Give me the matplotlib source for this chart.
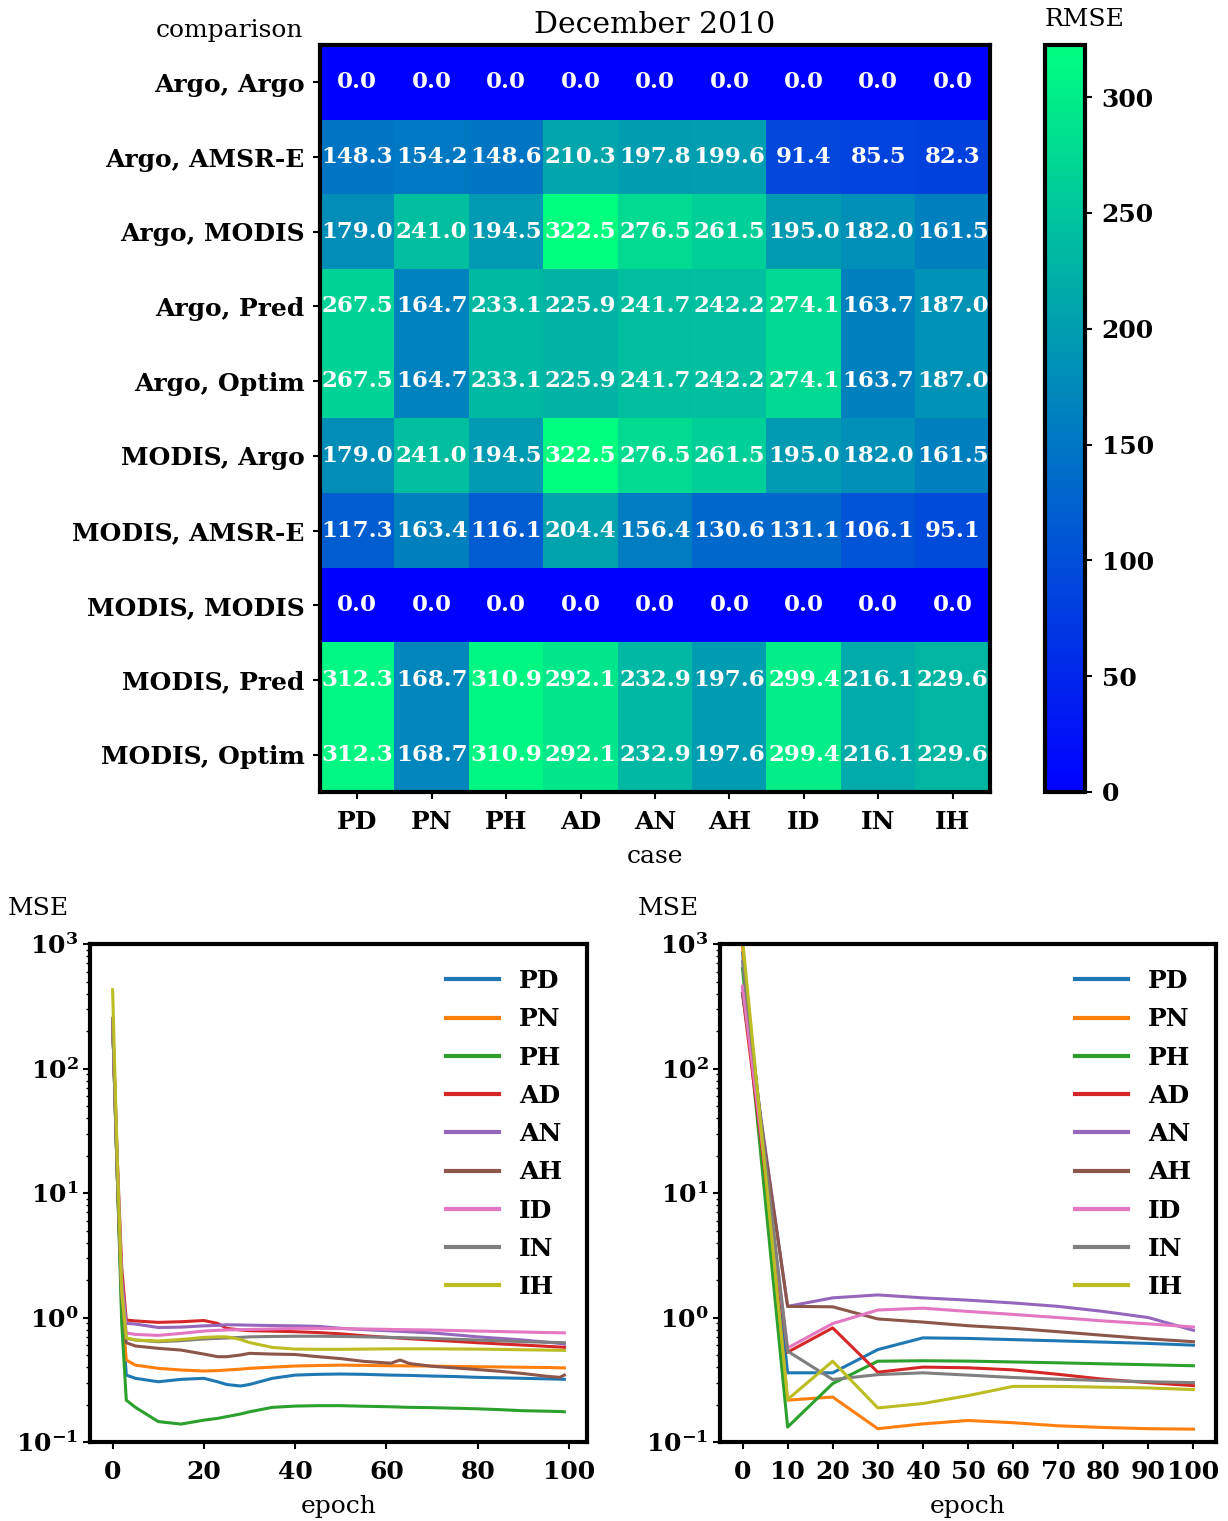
import numpy as np
import matplotlib
matplotlib.use("Agg")
import matplotlib.pyplot as plt

plt.rcParams['font.family'] = ['DejaVu Serif', 'DejaVu Sans']
plt.rcParams['mathtext.fontset'] = 'dejavuserif'
plt.rcParams['mathtext.default'] = 'bf'

# heatmap data
comparisons = ['Argo, Argo', 'Argo, AMSR-E', 'Argo, MODIS', 'Argo, Pred', 'Argo, Optim',
               'MODIS, Argo', 'MODIS, AMSR-E', 'MODIS, MODIS', 'MODIS, Pred', 'MODIS, Optim']
cases = ['PD', 'PN', 'PH', 'AD', 'AN', 'AH', 'ID', 'IN', 'IH']
rmse = np.array([
    [0.0, 0.0, 0.0, 0.0, 0.0, 0.0, 0.0, 0.0, 0.0],
    [148.3, 154.2, 148.6, 210.3, 197.8, 199.6, 91.4, 85.5, 82.3],
    [179.0, 241.0, 194.5, 322.5, 276.5, 261.5, 195.0, 182.0, 161.5],
    [267.5, 164.7, 233.1, 225.9, 241.7, 242.2, 274.1, 163.7, 187.0],
    [267.5, 164.7, 233.1, 225.9, 241.7, 242.2, 274.1, 163.7, 187.0],
    [179.0, 241.0, 194.5, 322.5, 276.5, 261.5, 195.0, 182.0, 161.5],
    [117.3, 163.4, 116.1, 204.4, 156.4, 130.6, 131.1, 106.1, 95.1],
    [0.0, 0.0, 0.0, 0.0, 0.0, 0.0, 0.0, 0.0, 0.0],
    [312.3, 168.7, 310.9, 292.1, 232.9, 197.6, 299.4, 216.1, 229.6],
    [312.3, 168.7, 310.9, 292.1, 232.9, 197.6, 299.4, 216.1, 229.6],
])

# left training curves (read at selected epochs)
ep_left = [0, 1, 2, 3, 5, 10, 15, 20, 23, 25, 28, 30, 35, 40, 45, 50, 55, 61, 63, 65,
           70, 75, 80, 85, 90, 95, 98, 99]
mse_left = {
    'PD': [250, 15, 1.2, 0.345, 0.325, 0.305, 0.319, 0.325, 0.305, 0.29, 0.282, 0.29, 0.325,
           0.345, 0.35, 0.352, 0.35, 0.345, 0.344, 0.343, 0.339, 0.336, 0.331, 0.328, 0.325,
           0.322, 0.32, 0.319],
    'PN': [250, 15, 1.3, 0.456, 0.415, 0.391, 0.379, 0.372, 0.375, 0.379, 0.385, 0.391, 0.40,
           0.408, 0.412, 0.415, 0.413, 0.41, 0.41, 0.409, 0.408, 0.405, 0.403, 0.401, 0.399,
           0.397, 0.395, 0.394],
    'PH': [250, 15, 0.9, 0.217, 0.19, 0.146, 0.1395, 0.15, 0.155, 0.16, 0.168, 0.175, 0.19,
           0.1945, 0.196, 0.196, 0.194, 0.192, 0.191, 0.19, 0.189, 0.187, 0.185, 0.182, 0.1785,
           0.177, 0.176, 0.175],
    'AD': [250, 20, 2.5, 0.955, 0.94, 0.915, 0.926, 0.947, 0.898, 0.819, 0.795, 0.784, 0.778,
           0.77, 0.758, 0.74, 0.715, 0.69, 0.684, 0.676, 0.66, 0.644, 0.628, 0.614, 0.601,
           0.588, 0.58, 0.576],
    'AN': [250, 18, 2.0, 0.898, 0.887, 0.832, 0.838, 0.858, 0.865, 0.875, 0.872, 0.869, 0.863,
           0.858, 0.85, 0.82, 0.80, 0.782, 0.775, 0.768, 0.753, 0.727, 0.70, 0.68, 0.66,
           0.635, 0.62, 0.612],
    'AH': [250, 15, 1.5, 0.628, 0.591, 0.566, 0.548, 0.509, 0.485, 0.485, 0.50, 0.516, 0.509,
           0.505, 0.485, 0.468, 0.445, 0.43, 0.456, 0.428, 0.406, 0.394, 0.382, 0.37, 0.355,
           0.338, 0.331, 0.345],
    'ID': [250, 18, 1.8, 0.753, 0.732, 0.719, 0.746, 0.779, 0.79, 0.795, 0.80, 0.803, 0.81,
           0.819, 0.819, 0.815, 0.81, 0.803, 0.80, 0.799, 0.794, 0.787, 0.779, 0.772, 0.765,
           0.758, 0.755, 0.753],
    'IN': [250, 15, 1.6, 0.68, 0.66, 0.64, 0.652, 0.673, 0.68, 0.685, 0.693, 0.70, 0.705,
           0.708, 0.708, 0.705, 0.70, 0.693, 0.69, 0.687, 0.68, 0.67, 0.66, 0.65, 0.64,
           0.633, 0.63, 0.628],
    'IH': [430, 20, 1.6, 0.687, 0.66, 0.648, 0.667, 0.693, 0.70, 0.70, 0.667, 0.63, 0.576,
           0.558, 0.556, 0.556, 0.558, 0.561, 0.561, 0.561, 0.561, 0.559, 0.558, 0.555, 0.551,
           0.548, 0.546, 0.545],
}

# right training curves
ep_right = [0, 10, 20, 30, 40, 50, 60, 70, 80, 90, 100]
mse_right = {
    'PD': [850, 0.36, 0.36, 0.553, 0.687, 0.68, 0.665, 0.65, 0.635, 0.62, 0.60],
    'PN': [950, 0.217, 0.23, 0.128, 0.14, 0.149, 0.143, 0.135, 0.131, 0.128, 0.127],
    'PH': [635, 0.132, 0.295, 0.446, 0.45, 0.447, 0.44, 0.433, 0.425, 0.418, 0.41],
    'AD': [402, 0.527, 0.826, 0.364, 0.40, 0.395, 0.38, 0.35, 0.32, 0.30, 0.284],
    'AN': [441, 1.23, 1.44, 1.52, 1.44, 1.38, 1.31, 1.23, 1.12, 1.0, 0.79],
    'AH': [402, 1.23, 1.22, 0.975, 0.92, 0.86, 0.82, 0.77, 0.72, 0.675, 0.64],
    'ID': [460, 0.57, 0.895, 1.15, 1.19, 1.12, 1.06, 1.0, 0.94, 0.89, 0.84],
    'IN': [721, 0.537, 0.318, 0.348, 0.36, 0.345, 0.33, 0.32, 0.312, 0.305, 0.30],
    'IH': [1100, 0.22, 0.446, 0.188, 0.204, 0.236, 0.28, 0.28, 0.276, 0.272, 0.264],
}

FS = 18

fig = plt.figure(figsize=(12.28, 15.21), dpi=100)
ax = fig.add_axes([0.2606, 0.4793, 0.5456, 0.4911])
cax = fig.add_axes([0.851, 0.4793, 0.0326, 0.4911])

im = ax.imshow(rmse, cmap='winter', vmin=0, vmax=rmse.max(), aspect='auto',
               interpolation='nearest')
for i in range(rmse.shape[0]):
    for j in range(rmse.shape[1]):
        ax.text(j, i, "%.1f" % rmse[i, j], ha='center', va='center', color='white',
                fontsize=16.5, fontweight='bold')
ax.set_xticks(range(len(cases)))
ax.set_xticklabels(cases, fontsize=FS, fontweight='bold')
ax.set_yticks(range(len(comparisons)))
ax.set_yticklabels(comparisons, fontsize=FS, fontweight='bold')
ax.tick_params(width=1.5, length=5)
ax.tick_params(axis='x', pad=8)
ax.tick_params(axis='y', pad=6)
ax.set_xlabel('case', fontsize=FS, labelpad=8)
ax.set_ylabel('comparison', fontsize=FS, rotation=0, ha='right', va='center')
ax.yaxis.set_label_coords(-0.025, 1.019)
ax.set_title('December 2010', fontsize=21.5, pad=9)
for s in ax.spines.values():
    s.set_linewidth(3)

cb = fig.colorbar(im, cax=cax)
cb.outline.set_linewidth(3)
cb.set_ticks([0, 50, 100, 150, 200, 250, 300])
cax.tick_params(labelsize=FS, width=1.5, length=5, pad=7)
for t in cax.get_yticklabels():
    t.set_fontweight('bold')
cax.set_title('RMSE', fontsize=FS, loc='left', pad=14)

colors = plt.rcParams['axes.prop_cycle'].by_key()['color']


def curve_panel(rect, epochs, data, xticks):
    a = fig.add_axes(rect)
    for k, name in enumerate(cases):
        a.plot(epochs, data[name], color=colors[k], lw=2.2, label=name)
    a.set_yscale('log')
    a.set_ylim(0.1, 1000)
    a.set_xticks(xticks)
    a.tick_params(labelsize=FS, width=1.5, length=5)
    a.tick_params(axis='x', pad=8)
    a.tick_params(which='minor', width=1, length=3)
    for t in a.get_xticklabels() + a.get_yticklabels():
        t.set_fontweight('bold')
    a.set_xlabel('epoch', fontsize=FS, labelpad=8)
    a.text(-0.165, 1.072, 'MSE', transform=a.transAxes, fontsize=FS, ha='left', va='center')
    for s in a.spines.values():
        s.set_linewidth(3)
    leg = a.legend(loc='upper right', frameon=False, prop={'size': FS, 'weight': 'bold'},
                   handlelength=2.1, labelspacing=0.57, borderaxespad=0.6)
    for h in leg.get_lines():
        h.set_linewidth(3)
    return a


ax_l = curve_panel([0.0733, 0.0519, 0.4047, 0.3274], ep_left, mse_left, range(0, 101, 20))
ax_r = curve_panel([0.5863, 0.0519, 0.4039, 0.3274], ep_right, mse_right, range(0, 101, 10))

fig.savefig('out.png', dpi=100)
